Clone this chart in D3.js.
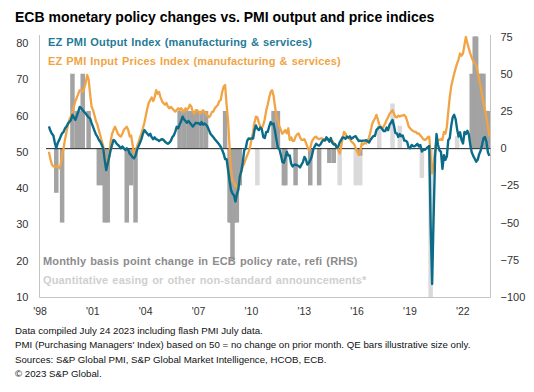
<!DOCTYPE html>
<html><head><meta charset="utf-8">
<script src="https://cdn.jsdelivr.net/npm/d3@7"></script>
<style>
html,body{margin:0;padding:0;background:#fff;}
svg{display:block;font-family:"Liberation Sans",Arial,sans-serif;}
</style></head>
<body><svg id="c" width="534" height="392"></svg>
<script>
// ---- DATA ----
const startMonth = [1998, 7]; // July 1998, monthly to July 2023
const outputIndex = [
57.0,55.8,55.0,54.5,52.5,51.0,
52.5,53.3,54.2,55.1,55.5,56.5,57.0,57.8,58.3,58.8,60.2,59.5,
58.8,60.0,61.1,62.4,62.0,61.5,61.0,60.6,60.0,59.5,59.2,58.0,
56.9,55.8,54.8,54.2,53.3,52.8,51.9,50.9,47.7,45.0,46.8,48.5,
50.5,52.0,53.3,53.0,52.3,51.9,51.5,51.0,51.5,51.0,50.5,51.0,
50.5,49.5,49.1,48.5,48.2,49.0,50.5,51.5,52.5,53.5,55.0,56.0,
55.5,55.0,54.5,55.0,54.0,53.5,54.0,53.5,53.3,53.0,53.3,53.5,
53.3,52.8,52.5,52.2,52.5,53.0,54.0,54.5,55.5,56.9,56.5,57.5,
58.5,59.7,59.0,58.5,58.0,58.5,58.0,57.5,57.0,57.5,58.0,57.9,
57.9,57.5,58.2,57.5,57.8,57.5,57.0,56.0,55.0,54.5,54.0,53.5,
53.0,52.5,52.0,51.4,50.5,49.5,48.0,48.0,45.0,42.0,39.5,38.5,
38.0,36.3,38.3,39.6,43.2,44.6,47.0,50.5,50.9,53.0,53.7,53.6,
53.7,53.7,55.9,57.3,56.4,56.0,56.7,56.2,54.1,53.8,55.5,55.5,
57.0,58.2,57.6,57.8,55.8,53.3,51.1,50.7,49.1,47.2,47.0,48.3,
50.0,49.0,49.0,46.7,46.0,46.4,46.5,46.3,46.1,45.7,46.5,47.2,
48.6,47.9,46.5,46.9,47.7,48.7,50.5,51.5,52.2,51.9,51.7,52.1,
52.9,53.3,53.1,54.0,53.5,52.8,53.8,52.5,52.0,52.1,51.1,51.4,
52.6,53.3,54.0,53.9,53.6,54.2,53.9,54.3,53.6,53.9,54.2,54.3,
53.6,53.0,53.1,53.0,53.1,53.1,53.2,52.9,52.6,53.3,53.9,54.4,
54.4,56.0,56.4,56.8,56.8,56.3,55.7,55.7,56.7,56.0,57.5,58.1,
58.8,57.1,55.2,55.1,54.1,54.9,54.3,54.5,53.1,53.1,52.7,51.1,
51.0,51.9,51.6,51.5,51.8,52.2,51.5,51.9,50.1,50.6,50.6,50.9,
51.3,51.6,29.7,13.6,31.9,48.5,54.9,51.9,50.4,50.0,45.3,49.1,
47.8,48.8,53.2,53.8,57.1,59.5,60.2,59.0,56.2,54.2,55.4,53.3,
52.3,55.5,54.9,55.8,54.8,52.0,49.9,48.9,48.1,47.3,47.8,49.3,
50.3,52.0,53.7,54.1,52.8,49.9,48.9
];
const inputPrices = [
50.0,48.0,46.5,46.0,45.9,46.0,
45.9,45.5,46.5,49.0,51.0,53.5,55.5,57.5,59.0,59.7,61.0,62.5,
64.0,65.0,66.0,67.0,67.0,66.5,67.5,69.0,71.2,70.0,66.0,62.5,
61.5,60.0,58.5,57.5,56.0,54.5,53.0,51.5,49.5,46.5,46.5,48.5,
53.0,55.0,56.0,56.9,56.0,55.0,54.5,54.2,55.0,56.0,56.5,56.9,
56.0,54.2,54.5,52.0,49.6,50.0,51.5,52.5,54.0,55.1,56.5,58.0,
60.0,62.0,63.5,64.3,65.0,64.0,65.0,67.0,66.0,66.5,65.0,64.0,
63.4,63.0,63.5,62.5,62.0,62.4,62.0,61.5,61.1,61.5,62.0,61.5,
62.0,61.5,61.0,62.0,61.5,62.0,63.0,62.5,61.0,60.5,61.5,61.5,
61.0,60.5,61.0,61.5,61.0,60.6,60.0,59.5,60.0,61.0,61.1,62.0,
62.5,62.9,64.0,64.3,66.5,68.0,68.4,63.0,58.5,51.4,45.0,42.0,
41.5,40.5,40.4,41.3,43.0,44.5,46.0,46.8,48.0,49.0,50.0,51.4,
53.5,55.5,58.0,59.7,59.5,58.0,57.0,56.5,57.5,59.0,61.5,63.0,
65.0,66.5,67.0,65.5,62.5,59.7,58.5,57.0,56.0,55.0,55.5,56.0,
55.1,56.5,53.3,54.0,53.0,53.0,54.2,54.8,55.1,54.0,53.3,53.3,
53.5,52.5,51.5,50.5,51.0,52.8,53.5,54.0,54.2,53.7,53.5,53.7,
53.7,53.5,53.3,53.3,53.5,53.3,53.3,53.0,52.5,52.0,51.4,50.5,
49.5,51.5,53.5,55.5,55.0,54.2,54.0,53.5,52.8,52.5,52.0,51.0,
50.0,49.1,50.0,52.3,52.0,52.5,52.3,53.0,54.0,55.5,57.5,58.5,
59.2,60.2,59.0,57.5,57.0,56.5,57.0,57.8,58.8,59.5,60.5,61.0,
61.5,60.5,59.7,59.5,60.0,59.7,60.0,60.0,60.2,59.7,58.5,57.0,
56.5,56.0,55.8,55.5,55.5,55.0,55.1,54.5,54.0,53.5,53.3,53.5,
54.0,54.2,49.0,44.1,46.5,50.5,53.0,53.3,53.3,53.5,53.3,55.5,
55.0,57.0,61.0,65.0,68.0,69.8,71.5,73.0,74.4,75.5,77.1,76.5,
77.1,79.5,81.7,80.0,78.5,77.1,76.0,75.0,74.4,74.0,72.0,70.0,
68.0,65.5,63.5,61.5,59.7,57.0,54.2
];
const rateMonths = ["1998-12","1999-04","1999-11","2000-02","2000-03","2000-04","2000-06","2000-10",
"2001-05","2001-08","2001-09","2001-11","2002-12","2003-03","2003-06",
"2005-12","2006-03","2006-06","2006-08","2006-10","2006-12","2007-03","2007-06","2008-07",
"2008-10","2008-11","2008-12","2009-01","2009-03","2009-04","2009-05",
"2011-04","2011-07","2011-11","2011-12","2012-07","2013-05","2013-11","2014-06","2014-09","2016-03",
"2022-07","2022-09","2022-10","2022-12","2023-02","2023-03","2023-05","2023-06"];
const rateChanges = [-30,-50,50,25,25,25,50,25,
-25,-25,-50,-50,-50,-25,-50,
25,25,25,25,25,25,25,25,25,
-50,-50,-75,-50,-50,-25,-25,
25,25,-25,-25,-25,-25,-25,-10,-10,-5,
50,75,75,50,50,50,25,25];
const qeMonths = ["2010-05","2015-01","2015-12","2016-03","2017-04","2018-01","2018-06","2019-09","2020-03","2021-09"];
const qeSizes  = [-25,-25,-25,-25,15,30,15,-20,-100,8];
const leftTicks = [10,20,30,40,50,60,70,80];
const rightTicks = [-100,-75,-50,-25,0,25,50,75];
const yearTicks = [1998,2001,2004,2007,2010,2013,2016,2019,2022];

// ---- CHART ----
const svg = d3.select("#c");
const x = d3.scaleTime().domain([new Date(1998,0,1), new Date(2023,7,8)]).range([39.5, 490.5]);
const yL = d3.scaleLinear().domain([10,80]).range([297,43]);
const yR = d3.scaleLinear().domain([-100,75]).range([297,36.5]);
const monthDate = (i) => new Date(startMonth[0], startMonth[1]-1+i, 15);
const parseM = (s) => { const [yy,mm] = s.split("-").map(Number); return new Date(yy, mm-1, 15); };

const TEAL = "#0b6c89", ORANGE = "#f2a444", DARK = "#a3a3a3", LIGHT = "#dadada";

// title
svg.append("text").attr("x",15).attr("y",21.5).attr("font-size",14).attr("font-weight","bold")
  .attr("fill","#000").text("ECB monetary policy changes vs. PMI output and price indices");

// bars
const bw = 4.5;
svg.append("g").selectAll("rect").data(qeMonths.map((m,i)=>({d:parseM(m), v:qeSizes[i]})))
  .join("rect").attr("x",d=>x(d.d)-bw/2).attr("width",bw)
  .attr("y",d=>Math.min(yR(0),yR(d.v))).attr("height",d=>Math.abs(yR(d.v)-yR(0))).attr("fill",LIGHT);
svg.append("g").selectAll("rect").data(rateMonths.map((m,i)=>({d:parseM(m), v:rateChanges[i]})))
  .join("rect").attr("x",d=>x(d.d)-bw/2).attr("width",bw)
  .attr("y",d=>Math.min(yR(0),yR(d.v))).attr("height",d=>Math.abs(yR(d.v)-yR(0))).attr("fill",DARK);

// frame
const frame = svg.append("g").attr("stroke","#c4c4c4").attr("stroke-width",1);
frame.append("line").attr("x1",39.5).attr("x2",39.5).attr("y1",35).attr("y2",297.5);
frame.append("line").attr("x1",490.5).attr("x2",490.5).attr("y1",35).attr("y2",297.5);
frame.append("line").attr("x1",39.5).attr("x2",490.5).attr("y1",297.5).attr("y2",297.5);

// zero line
svg.append("line").attr("x1",46).attr("x2",490.5).attr("y1",yR(0)+0.5).attr("y2",yR(0)+0.5)
  .attr("stroke","#222").attr("stroke-width",1);

// lines
const ln = (arr, sc) => d3.line().x((d,i)=>x(monthDate(i))).y(d=>sc(d))(arr);
svg.append("path").attr("d", ln(inputPrices, yL)).attr("fill","none").attr("stroke",ORANGE)
  .attr("stroke-width",2.3).attr("stroke-linejoin","round");
svg.append("path").attr("d", ln(outputIndex, yL)).attr("fill","none").attr("stroke",TEAL)
  .attr("stroke-width",2.4).attr("stroke-linejoin","round");

// axes
const axL = d3.axisLeft(yL).tickValues(leftTicks).tickSize(0).tickPadding(11).tickFormat(d3.format("d"));
const gL = svg.append("g").attr("transform","translate(39.5,0)").call(axL);
const axR = d3.axisRight(yR).tickValues(rightTicks).tickSize(0).tickPadding(10).tickFormat(d3.format("d"));
const gR = svg.append("g").attr("transform","translate(490.5,0)").call(axR);
const axB = d3.axisBottom(x).tickValues(yearTicks.map(y=>new Date(y,0,1))).tickSize(0).tickPadding(10.5)
  .tickFormat(d=>"'"+String(d.getFullYear()).slice(2));
const gB = svg.append("g").attr("transform","translate(0,297)").call(axB);
[gL,gR,gB].forEach(g=>{
  g.select(".domain").remove();
  g.selectAll("text").attr("font-family","Liberation Sans, Arial, sans-serif").attr("fill","#333");
});
gL.selectAll("text").attr("font-size",11);
gR.selectAll("text").attr("font-size",11);
gB.selectAll("text").attr("font-size",10.5);

// legend / annotations
const ann = (xx, yy, col, txt) => svg.append("text").attr("x",xx).attr("y",yy).attr("font-size",11)
  .attr("font-weight","bold").attr("letter-spacing",0.15).attr("word-spacing",0.8).attr("fill",col).text(txt);
ann(48, 45.5, "#1f7b98", "EZ PMI Output Index (manufacturing & services)");
ann(48, 64.5, "#f2a444", "EZ PMI Input Prices Index (manufacturing & services)");
ann(43, 265, "#8c8c8c", "Monthly basis point change in ECB policy rate, refi (RHS)");
ann(43, 283.5, "#cfcfcf", "Quantitative easing or other non-standard announcements*");

// footer
const foot = ["Data compiled July 24 2023 including flash PMI July data.",
"PMI (Purchasing Managers' Index) based on 50 = no change on prior month. QE bars illustrative size only.",
"Sources: S&P Global PMI, S&P Global Market Intelligence, HCOB, ECB.",
"\u00a9 2023 S&P Global."];
svg.append("g").selectAll("text").data(foot).join("text")
  .attr("x",15).attr("y",(d,i)=>333.5+i*14.5).attr("font-size",9.7).attr("fill","#111").text(d=>d);
</script></body></html>
